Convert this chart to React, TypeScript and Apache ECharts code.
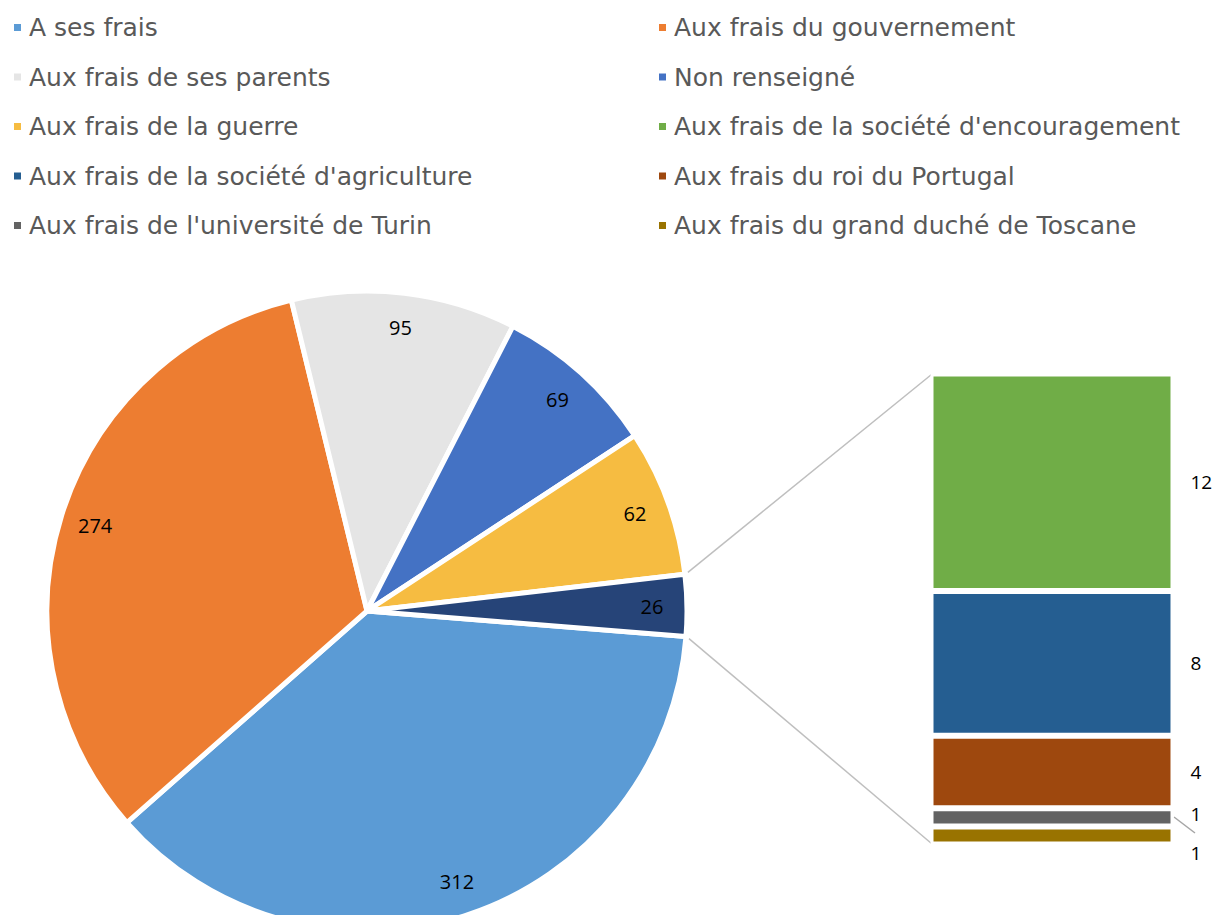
import React, { useEffect, useRef } from "react";
import * as echarts from "echarts";

// Pie (main) data
const pieNames = [
  "A ses frais",
  "Aux frais du gouvernement",
  "Aux frais de ses parents",
  "Non renseigné",
  "Aux frais de la guerre",
];
const pieValues = [312, 274, 95, 69, 62];
const pieColors = ["#5B9BD5", "#ED7D31", "#E5E5E5", "#4472C4", "#F6BC41"];
const otherColor = "#264478";

// Secondary bar (detail of "other") data, top to bottom
const barNames = [
  "Aux frais de la société d'encouragement",
  "Aux frais de la société d'agriculture",
  "Aux frais du roi du Portugal",
  "Aux frais de l'université de Turin",
  "Aux frais du grand duché de Toscane",
];
const barValues = [12, 8, 4, 1, 1];
const barColors = ["#70AD47", "#255E91", "#9E480E", "#636363", "#997300"];

// Legend layout (two columns)
const legendLeft = [
  "A ses frais",
  "Aux frais de ses parents",
  "Aux frais de la guerre",
  "Aux frais de la société d'agriculture",
  "Aux frais de l'université de Turin",
];
const legendRight = [
  "Aux frais du gouvernement",
  "Non renseigné",
  "Aux frais de la société d'encouragement",
  "Aux frais du roi du Portugal",
  "Aux frais du grand duché de Toscane",
];

export default function App() {
  const ref = useRef<HTMLDivElement>(null);
  useEffect(() => {
    document.body.style.margin = "0";
    if (!ref.current) return;
    const chart = echarts.init(ref.current, undefined, { renderer: "svg" });

    const otherTotal = barValues.reduce((a, b) => a + b, 0);
    const total = pieValues.reduce((a, b) => a + b, 0) + otherTotal;
    const otherSpan = (otherTotal / total) * 360;
    const startAngle = -otherSpan / 2 + 1;

    const cx = 367;
    const cy = 611;
    const R = 320;

    const barLeft = 930.5;
    const barTop = 373.5;
    const barW = 243;
    const barH = 471;

    const aUp = (otherSpan / 2 + 1) * (Math.PI / 180);
    const aDown = (otherSpan / 2 - 1) * (Math.PI / 180);
    const upper = [cx + R * Math.cos(aUp) + 3, cy - R * Math.sin(aUp) - 2];
    const lower = [cx + R * Math.cos(aDown) + 3, cy + R * Math.sin(aDown) + 2];

    const pieData = pieValues.map((v, i) => ({
      name: pieNames[i],
      value: v,
      itemStyle: { color: pieColors[i] },
    }));
    pieData.push({ name: "Autres", value: otherTotal, itemStyle: { color: otherColor } });

    const labelData = pieData.map((d, i) => ({ name: "lbl" + i, value: d.value }));

    const fontLabel = "'Open Sans', 'DejaVu Sans', sans-serif";

    // stacked bar series: bottom first
    const barSeries: any[] = [];
    for (let i = barValues.length - 1; i >= 0; i--) {
      const isGray = i === 3;
      const isLast = i === 4;
      barSeries.push({
        type: "bar",
        name: barNames[i],
        stack: "other",
        data: [barValues[i]],
        barWidth: "100%",
        itemStyle: { color: barColors[i], borderColor: "#fff", borderWidth: 3 },
        label: {
          show: true,
          position: "right",
          distance: 17,
          color: "#000",
          fontSize: 19,
          fontFamily: fontLabel,
          offset: isGray ? [0, -3] : isLast ? [0, 18] : [0, 0],
        },
      });
    }

    const legendCommon = {
      orient: "vertical" as const,
      icon: "rect",
      itemWidth: 9,
      itemHeight: 9,
      itemGap: 24.5,
      padding: 0,
      selectedMode: false,
      textStyle: {
        fontSize: 25,
        lineHeight: 24,
        color: "#595959",
        fontFamily: "'DejaVu Sans', Arial, sans-serif",
        padding: [0, 0, 0, 2],
      },
    };

    chart.setOption({
      animation: false,
      backgroundColor: "#fff",
      legend: [
        { ...legendCommon, left: 12, top: 15, data: legendLeft },
        { ...legendCommon, left: 657, top: 15, data: legendRight },
      ],
      grid: { left: barLeft, top: barTop, width: barW, height: barH, containLabel: false },
      xAxis: { type: "category", data: ["autres"], show: false },
      yAxis: { type: "value", min: 0, max: otherTotal, show: false },
      series: [
        {
          type: "pie",
          center: [cx, cy],
          radius: [0, R],
          startAngle,
          clockwise: true,
          label: { show: false },
          labelLine: { show: false },
          silent: true,
          itemStyle: { borderColor: "#fff", borderWidth: 5 },
          data: pieData,
        },
        {
          type: "pie",
          center: [cx, cy],
          radius: [244, R],
          startAngle,
          clockwise: true,
          silent: true,
          itemStyle: { color: "transparent", borderWidth: 0 },
          label: {
            show: true,
            position: "inside",
            formatter: "{c}",
            color: "#000",
            fontSize: 20,
            fontFamily: fontLabel,
          },
          labelLine: { show: false },
          data: labelData,
        },
        ...barSeries,
      ],
      graphic: [
        {
          type: "line",
          shape: { x1: upper[0], y1: upper[1], x2: barLeft + 1, y2: barTop + 1 },
          style: { stroke: "#BFBFBF", lineWidth: 1.5 },
        },
        {
          type: "line",
          shape: { x1: lower[0], y1: lower[1], x2: barLeft + 1, y2: barTop + barH - 1 },
          style: { stroke: "#BFBFBF", lineWidth: 1.5 },
        },
        {
          type: "line",
          shape: { x1: 1174, y1: 817, x2: 1195, y2: 833 },
          style: { stroke: "#A6A6A6", lineWidth: 1.5 },
        },
      ],
    });

    return () => chart.dispose();
  }, []);

  return <div ref={ref} style={{ width: 1217, height: 915 }} />;
}
